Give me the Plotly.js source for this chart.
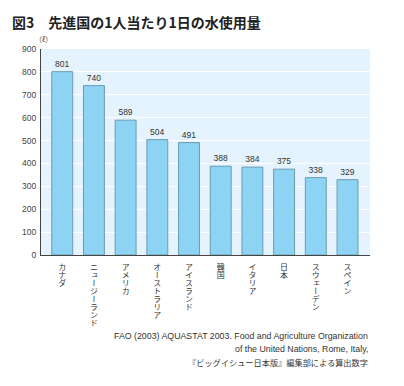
<!DOCTYPE html>
<html>
<head>
<meta charset="utf-8">
<script src="https://cdn.plot.ly/plotly-3.0.1.min.js"></script>
<style>
html,body{margin:0;padding:0;background:#fff;}
#chart{width:404px;height:386px;}
#chart .xtick text{writing-mode:vertical-rl;text-anchor:start !important;}
</style>
</head>
<body>
<div id="chart"></div>
<script>
const countries = ["カナダ","ニュージーランド","アメリカ","オーストラリア","アイスランド","韓国","イタリア","日本","スウェーデン","スペイン"];
const litres = [801,740,589,504,491,388,384,375,338,329];
const yTicks = [0,100,200,300,400,500,600,700,800,900];
const titleText = "図3　先進国の1人当たり1日の水使用量";
const unitText = "（ℓ）";
const sourceLines = [
  "FAO (2003) AQUASTAT 2003. Food and Agriculture Organization",
  "of the United Nations, Rome, Italy,",
  "『ビッグイシュー日本版』編集部による算出数字"
];

const trace = {
  type: "bar",
  x: countries,
  y: litres,
  text: litres.map(String),
  textposition: "outside",
  cliponaxis: false,
  textfont: {family: "Liberation Sans, Arial, sans-serif", size: 8.5, color: "#333"},
  marker: {color: "#8dd3f4", line: {color: "#6b9cb0", width: 1}},
  width: 0.66,
  hoverinfo: "none"
};

const layout = {
  width: 404, height: 386,
  margin: {l: 41, r: 34, t: 49, b: 131},
  paper_bgcolor: "#ffffff",
  plot_bgcolor: "#e4f3fd",
  showlegend: false,
  font: {family: "Noto Sans CJK JP, Liberation Sans, sans-serif", color: "#333"},
  title: {
    text: titleText,
    font: {family: "Noto Sans CJK JP, sans-serif", size: 14, color: "#222", weight: "bold"},
    x: 12/404, xanchor: "left", xref: "container",
    y: 1 - 23/386, yanchor: "middle", yref: "container"
  },
  xaxis: {
    type: "category",
    range: [-0.67, 9.71],
    tickangle: 0,
    showgrid: false,
    showline: true, linecolor: "#444", linewidth: 1,
    ticks: "",
    ticklabelstandoff: -3,
    tickfont: {family: "Noto Sans CJK JP, sans-serif", size: 8, color: "#333"},
    fixedrange: true
  },
  yaxis: {
    range: [0, 900],
    tickvals: yTicks,
    ticktext: yTicks.map(String),
    showgrid: true, gridcolor: "#ffffff", gridwidth: 1,
    zeroline: false,
    showline: true, linecolor: "#444", linewidth: 1,
    ticks: "",
    ticklabelstandoff: 2,
    tickfont: {family: "Liberation Sans, Arial, sans-serif", size: 8.5, color: "#444"},
    fixedrange: true
  },
  annotations: [
    {text: unitText, xref: "paper", yref: "paper", x: 0.009, y: 1.05, xanchor: "center", yanchor: "middle", showarrow: false,
     font: {family: "Noto Sans CJK JP, sans-serif", size: 7, color: "#444"}},
    {text: sourceLines[0], xref: "paper", yref: "paper", x: 1, y: -0.392, xanchor: "right", yanchor: "middle", showarrow: false,
     font: {family: "Liberation Sans, Arial, sans-serif", size: 8.8, color: "#333"}},
    {text: sourceLines[1], xref: "paper", yref: "paper", x: 1, y: -0.455, xanchor: "right", yanchor: "middle", showarrow: false,
     font: {family: "Liberation Sans, Arial, sans-serif", size: 8.8, color: "#333"}},
    {text: sourceLines[2], xref: "paper", yref: "paper", x: 1, y: -0.518, xanchor: "right", yanchor: "middle", showarrow: false,
     font: {family: "Noto Sans CJK JP, sans-serif", size: 8.2, color: "#333"}}
  ]
};

Plotly.newPlot("chart", [trace], layout, {displayModeBar: false, staticPlot: true});
</script>
</body>
</html>
